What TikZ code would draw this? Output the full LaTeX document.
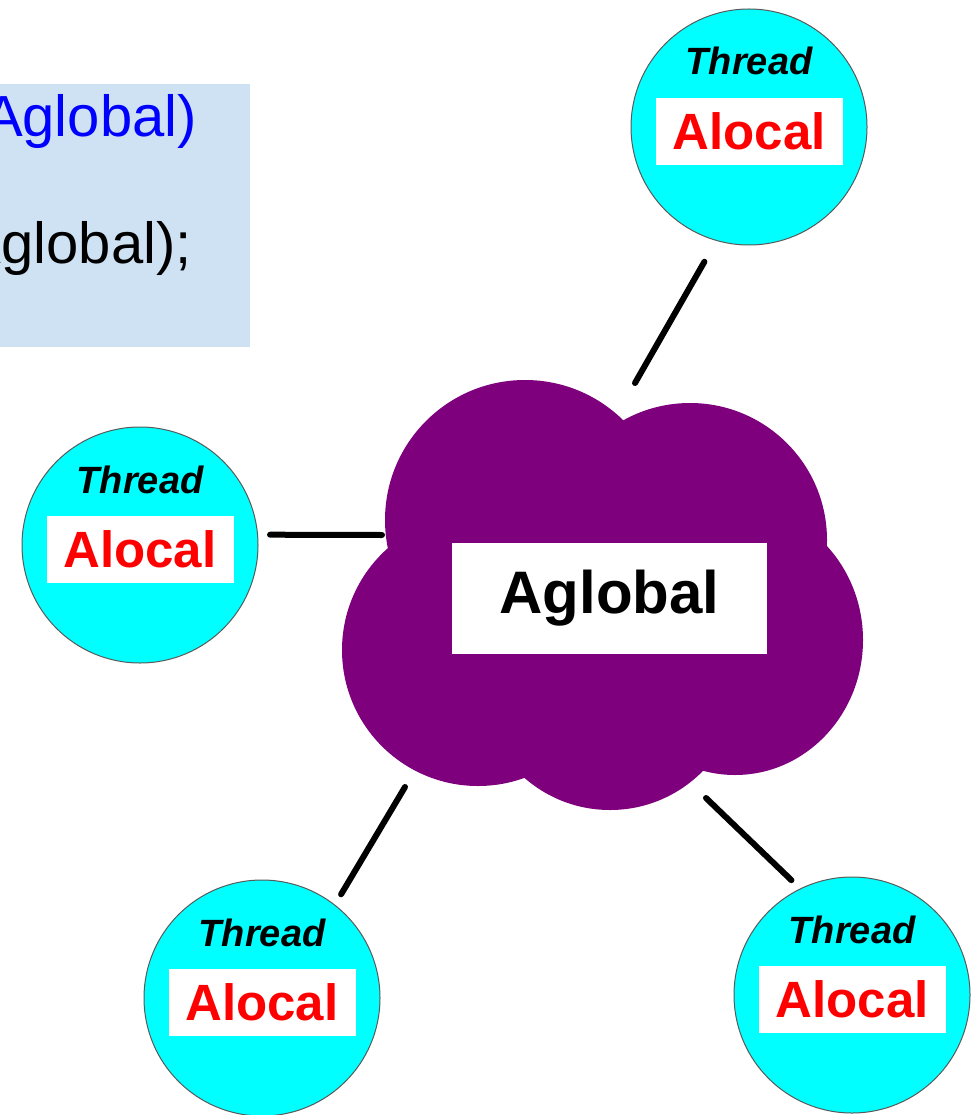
\documentclass[tikz,border=0pt]{standalone}
\usepackage{fontspec}
\setmainfont{Liberation Sans}
\definecolor{codebg}{RGB}{207,226,243}
\definecolor{codeblue}{RGB}{0,0,255}
\definecolor{threadcyan}{RGB}{0,255,255}
\definecolor{localred}{RGB}{255,0,0}
\definecolor{cloudpurple}{RGB}{126,0,124}
\newcommand\threadnode[2]{% #1 = name, #2 = centre
  \node[threadball] (#1) at (#2) {};
  \node[threadname] (#1-name) at ([yshift=52pt]#1.center) {Thread};
  \node[localbox] (#1-local) at ([yshift=-4.5pt]#1.center) {Alocal};
}
\begin{document}
\begin{tikzpicture}[x=1pt,y=-1pt,
  threadball/.style={circle, fill=threadcyan, draw=black!65, line width=1pt,
    minimum size=236pt, inner sep=0pt},
  threadname/.style={anchor=base, inner sep=0pt,
    font=\fontsize{38}{40}\selectfont\bfseries\itshape},
  localbox/.style={fill=white, text=localred, minimum width=187pt,
    minimum height=67pt, inner sep=0pt,
    font=\fontsize{51}{54}\selectfont\bfseries},
  globalbox/.style={fill=white, minimum width=315pt, minimum height=111pt,
    inner sep=0pt, font=\fontsize{60}{64}\selectfont\bfseries},
  codebox/.style={fill=codebg, minimum width=300pt, minimum height=263pt,
    inner sep=0pt},
  codeline/.style={anchor=base east, inner sep=0pt,
    font=\fontsize{58}{62}\selectfont},
  link/.style={line width=6pt, line cap=round, black},
  lobe/.style={fill=cloudpurple}]

\clip (0,0) rectangle (971,1115);

% code fragment panel
\node[codebox, anchor=north east] (code) at (250,84) {};
\node[codeline, text=codeblue] (line1) at (197,137) {Aglobal)};
\node[codeline] (line2) at (192,263) {Aglobal);};

% shared data: a cloud built from overlapping lobes
\fill[lobe] (525,520) circle (140pt);
\fill[lobe] (690,540) circle (137pt);
\fill[lobe] (478,650) circle (136pt);
\fill[lobe] (735,640) ellipse (128pt and 135pt);
\fill[lobe] (610,680) circle (130pt);
\fill[lobe] (610,600) circle (150pt);
\node[globalbox] (global) at (609.5,598.5) {Aglobal};

% threads with their private copies
\threadnode{tr}{749,127}
\threadnode{lt}{140,545}
\threadnode{bl}{262,998}
\threadnode{br}{852,995}

% links between the cloud and the threads
\coordinate (gT) at (635,383);
\coordinate (gL) at (382,535);
\coordinate (gBL) at (405,787);
\coordinate (gBR) at (706,798);
\draw[link, shorten >=24pt] (gT) -- (tr.254);
\draw[link, shorten >=12pt] (gL) -- (lt.5);
\draw[link, shorten >=12pt] (gBL) -- (bl.52);
\draw[link, shorten >=12pt] (gBR) -- (br.116);
\end{tikzpicture}
\end{document}
